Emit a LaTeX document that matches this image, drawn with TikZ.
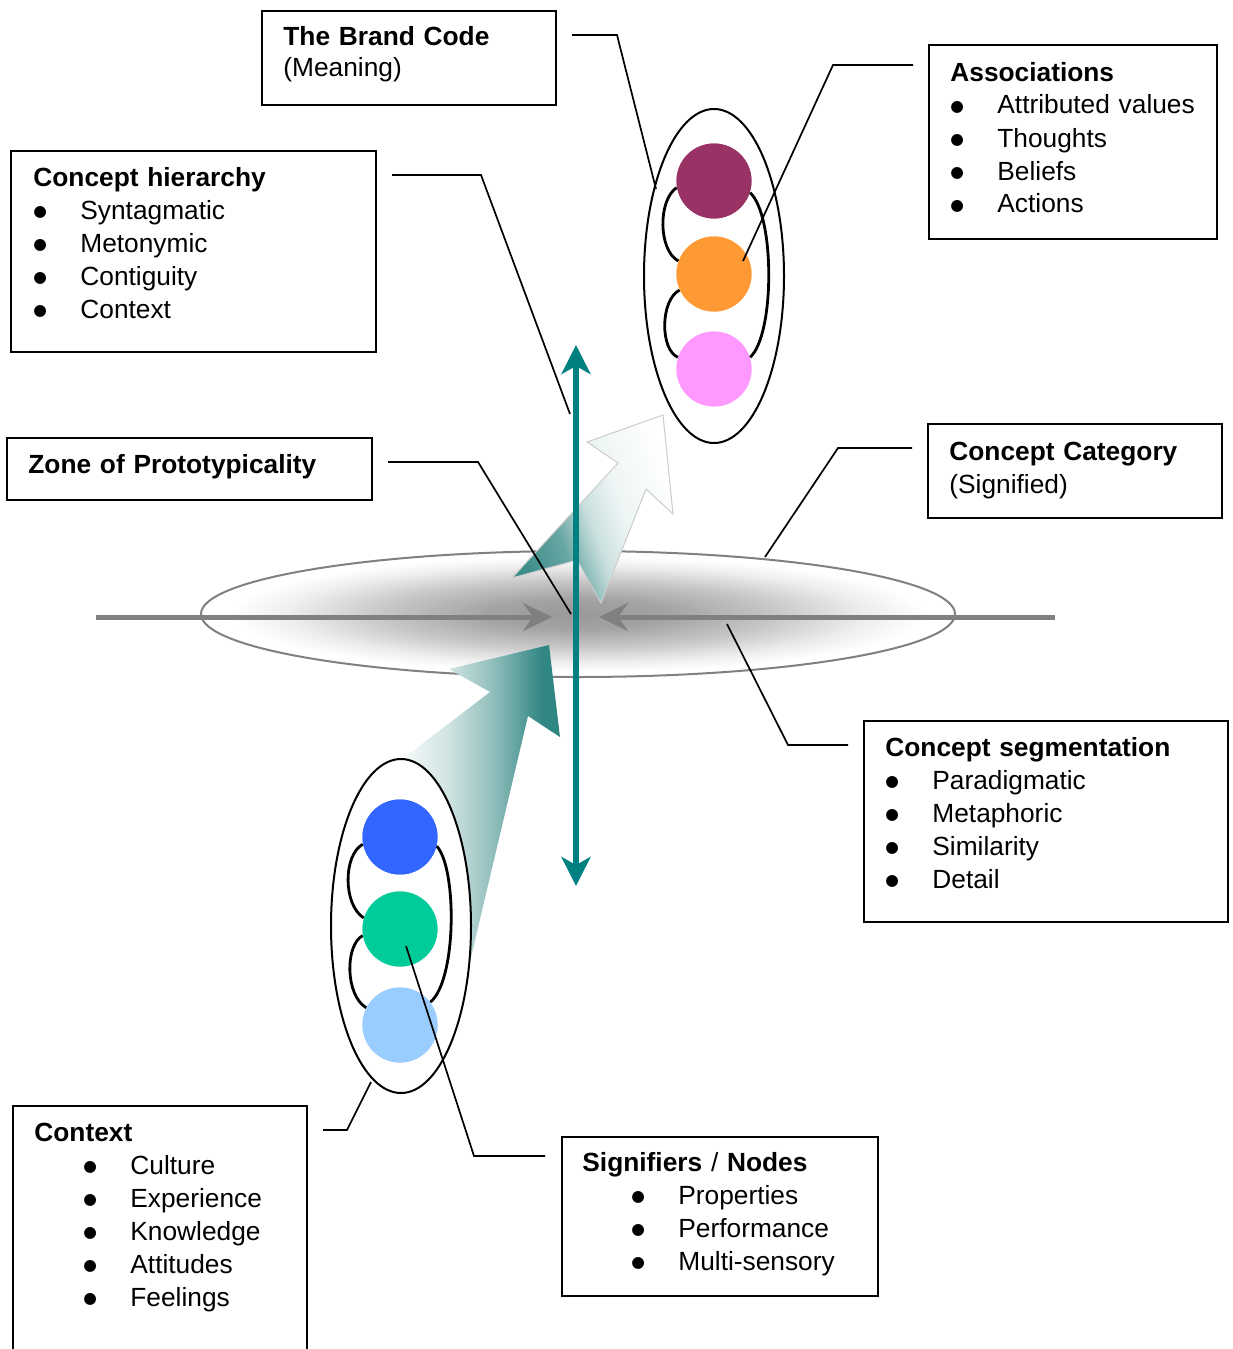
\documentclass[tikz,border=0pt]{standalone}
\usepackage{fontspec}
\setmainfont{Liberation Sans}
\newfontfamily\dejavu{DejaVu Sans}
\usetikzlibrary{arrows.meta}
\definecolor{tealA}{RGB}{0,128,128}
\definecolor{tealdk}{RGB}{38,128,124}
\definecolor{purp}{RGB}{153,51,102}
\definecolor{orng}{RGB}{255,153,51}
\definecolor{pnk}{RGB}{255,153,255}
\definecolor{blu}{RGB}{51,102,255}
\definecolor{grn}{RGB}{0,204,153}
\definecolor{lblu}{RGB}{153,204,255}
\definecolor{grayline}{RGB}{128,128,128}
\pgfdeclareradialshading{glow}{\pgfpoint{0bp}{0bp}}{color(0bp)=(black!40); color(6bp)=(black!36); color(13bp)=(black!22); color(19bp)=(black!7); color(23bp)=(white); color(50bp)=(white)}
\pgfdeclarehorizontalshading{lowshade}{100bp}{color(0bp)=(white); color(28bp)=(white); color(44bp)=(tealdk!22); color(56bp)=(tealdk!50); color(70bp)=(tealdk!95); color(100bp)=(tealdk)}
\pgfdeclareverticalshading{upshade}{100bp}{color(0bp)=(tealdk!90); color(25bp)=(tealdk!90); color(38bp)=(tealdk!70); color(48bp)=(tealdk!25); color(58bp)=(tealdk!8); color(75bp)=(white); color(100bp)=(white)}
\newcommand\itm[1]{\makebox[23.5pt][l]{\raisebox{1.1pt}{\dejavu\fontsize{7.8pt}{7.8pt}\selectfont ●}}#1}
\newcommand\itmin[1]{\hspace*{24.5pt}\itm{#1}}
\begin{document}
\begin{tikzpicture}[x=0.5pt, y=-0.5pt,
  frame/.style={draw=black, line width=1pt, fill=white, inner sep=0pt},
  lbl/.style={anchor=base west, inner sep=0pt, text width=200pt, align=left, font=\fontsize{13.15pt}{16.5pt}\selectfont},
  leader/.style={draw=black, line width=0.85pt},
  dot/.style={circle, inner sep=0pt, minimum size=37.5pt},
  loopline/.style={draw=black, line width=1.4pt},
  bigell/.style={draw=black, line width=1pt, fill=white},
  grayarr/.style={draw=grayline, line width=2.5pt, -{Stealth[length=14.5pt, width=14pt, inset=5pt]}},
  tealarr/.style={draw=tealA, line width=3pt, {Stealth[length=14.5pt, width=14.5pt, inset=4pt]}-{Stealth[length=14.5pt, width=14.5pt, inset=4pt]}}
]
\useasboundingbox (0,0) rectangle (1232,1349);

% central category ellipse
\shadedraw[shading=glow, draw=grayline, line width=1pt] (578,614) ellipse [x radius=188.5pt, y radius=31.5pt];

% grey horizontal arrows
\coordinate (gl) at (96,617);
\coordinate (glt) at (552,617);
\coordinate (gr) at (1055,617);
\coordinate (grt) at (599,617);
\draw[grayarr] (gl) -- (glt);
\draw[grayarr] (gr) -- (grt);

% upper big arrow
\shadedraw[shading=upshade, shading angle=-70, draw=black!20, line width=0.5pt]
  (512,578) -- (618,463) -- (587,442) -- (663,415) -- (673,514) -- (646,489) -- (601,603) -- (577,560) -- cycle;

% lower big arrow
\shade[shading=lowshade]
  (380,776) -- (490,692) -- (449,669) -- (549,645) -- (560,737) -- (528,716) -- (468,970) -- cycle;

% bottom group
\draw[bigell] (401,926) ellipse [x radius=35pt, y radius=83.5pt];
\node[dot, fill=blu] (cb) at (400,837) {};
\node[dot, fill=grn] (cg) at (400,929) {};
\node[dot, fill=lblu] (cl) at (400,1025) {};
\draw[loopline] (cb.191) .. controls (343,855) and (343,905) .. (cg.163);
\draw[loopline] (cg.190) .. controls (345,945) and (345,995) .. (cl.153);
\draw[loopline] (cb.346) .. controls (457,868) and (457,980) .. (cl.37);
\node[dot, fill=blu] at (cb) {};
\node[dot, fill=grn] at (cg) {};
\node[dot, fill=lblu] at (cl) {};

% top group
\draw[bigell] (714,276) ellipse [x radius=35pt, y radius=83.5pt];
\node[dot, fill=purp] (cp) at (714,181) {};
\node[dot, fill=orng] (co) at (714,274) {};
\node[dot, fill=pnk] (ck) at (714,369) {};
\draw[loopline] (cp.190) .. controls (658,200) and (658,250) .. (co.160);
\draw[loopline] (co.205) .. controls (660,300) and (660,350) .. (ck.162);
\draw[loopline] (cp.342) .. controls (775,215) and (775,335) .. (ck.18);
\node[dot, fill=purp] at (cp) {};
\node[dot, fill=orng] at (co) {};
\node[dot, fill=pnk] at (ck) {};

% vertical teal arrow
\coordinate (vt) at (576,345);
\coordinate (vb) at (576,886);
\draw[tealarr] (vb) -- (vt);

% boxes
\node[frame, minimum width=147pt, minimum height=47pt] (bbc) at (409,58) {};
\node[frame, minimum width=144pt, minimum height=97pt] (bas) at (1073,142) {};
\node[frame, minimum width=182.5pt, minimum height=100.5pt] (bch) at (193.5,251.5) {};
\node[frame, minimum width=182.5pt, minimum height=31pt] (bzp) at (189.5,469) {};
\node[frame, minimum width=147pt, minimum height=47pt] (bcc) at (1075,471) {};
\node[frame, minimum width=182pt, minimum height=100.5pt] (bcs) at (1046,821.5) {};
\node[frame, minimum width=147pt, minimum height=136pt] (bcx) at (160,1242) {};
\node[frame, minimum width=158pt, minimum height=79.5pt] (bsn) at (720,1216.5) {};

% texts
\node[lbl] (tbc) at (283,46) {\textbf{The Brand Code}\\[-1pt](Meaning)};
\node[lbl] (tas) at (950,81) {\textbf{Associations}\\\itm{Attributed values}\\\itm{Thoughts}\\\itm{Beliefs}\\\itm{Actions}};
\node[lbl] (tch) at (33,186) {\textbf{Concept hierarchy}\\\itm{Syntagmatic}\\\itm{Metonymic}\\\itm{Contiguity}\\\itm{Context}};
\node[lbl] (tzp) at (28,473) {\textbf{Zone of Prototypicality}};
\node[lbl] (tcc) at (949,460) {\textbf{Concept Category}\\(Signified)};
\node[lbl] (tcs) at (885,756) {\textbf{Concept segmentation}\\\itm{Paradigmatic}\\\itm{Metaphoric}\\\itm{Similarity}\\\itm{Detail}};
\node[lbl] (tcx) at (34,1141) {\textbf{Context}\\\itmin{Culture}\\\itmin{Experience}\\\itmin{Knowledge}\\\itmin{Attitudes}\\\itmin{Feelings}};
\node[lbl] (tsn) at (582,1171) {\textbf{Signifiers} / \textbf{Nodes}\\\itmin{Properties}\\\itmin{Performance}\\\itmin{Multi-sensory}};

% leader lines
\coordinate (sbc) at (572,35);   \coordinate (ebc) at (656,189);
\coordinate (sas) at (913,65);   \coordinate (eas) at (743,261);
\coordinate (sch) at (392,175);  \coordinate (ech) at (570,414);
\coordinate (szp) at (388,462);  \coordinate (ezp) at (571,614);
\coordinate (scc) at (912,448);  \coordinate (ecc) at (765,557);
\coordinate (scs) at (848,745);  \coordinate (ecs) at (727,624);
\coordinate (scx) at (323,1130); \coordinate (ecx) at (371,1082);
\coordinate (ssn) at (545,1156); \coordinate (esn) at (406,946);
\draw[leader] (sbc) -- (617,35) -- (ebc);
\draw[leader] (sas) -- (833,65) -- (eas);
\draw[leader] (sch) -- (481,175) -- (ech);
\draw[leader] (szp) -- (478,462) -- (ezp);
\draw[leader] (scc) -- (838,448) -- (ecc);
\draw[leader] (scs) -- (788,745) -- (ecs);
\draw[leader] (scx) -- (347,1130) -- (ecx);
\draw[leader] (ssn) -- (474,1156) -- (esn);
\end{tikzpicture}
\end{document}
